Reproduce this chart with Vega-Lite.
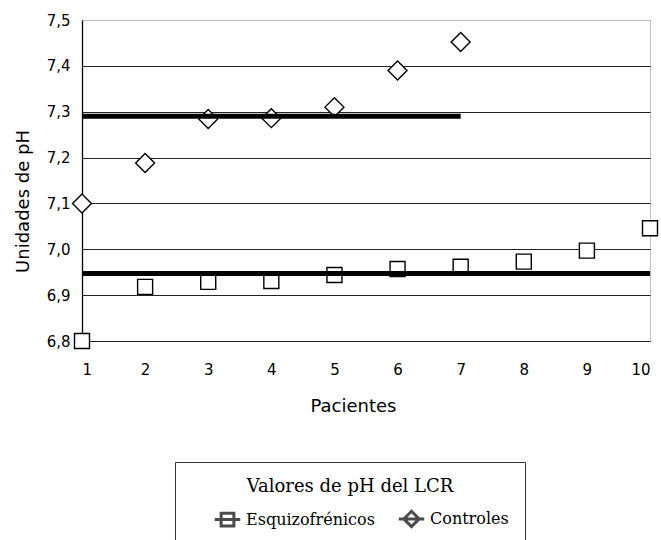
{
  "$schema": "https://vega.github.io/schema/vega-lite/v6.json",
  "autosize": "none",
  "width": 568,
  "height": 321,
  "padding": {"left": 82, "top": 20, "right": 11, "bottom": 199},
  "background": "white",
  "config": {
    "view": {"stroke": "#bbbbbb", "strokeWidth": 1},
    "font": "DejaVu Sans"
  },
  "datasets": {
    "puntos": [
      {"grupo": "Esquizofrénicos", "paciente": 1, "ph": 6.800},
      {"grupo": "Esquizofrénicos", "paciente": 2, "ph": 6.918},
      {"grupo": "Esquizofrénicos", "paciente": 3, "ph": 6.929},
      {"grupo": "Esquizofrénicos", "paciente": 4, "ph": 6.931},
      {"grupo": "Esquizofrénicos", "paciente": 5, "ph": 6.944},
      {"grupo": "Esquizofrénicos", "paciente": 6, "ph": 6.957},
      {"grupo": "Esquizofrénicos", "paciente": 7, "ph": 6.962},
      {"grupo": "Esquizofrénicos", "paciente": 8, "ph": 6.973},
      {"grupo": "Esquizofrénicos", "paciente": 9, "ph": 6.997},
      {"grupo": "Esquizofrénicos", "paciente": 10, "ph": 7.046},
      {"grupo": "Controles", "paciente": 1, "ph": 7.100},
      {"grupo": "Controles", "paciente": 2, "ph": 7.188},
      {"grupo": "Controles", "paciente": 3, "ph": 7.284},
      {"grupo": "Controles", "paciente": 4, "ph": 7.286},
      {"grupo": "Controles", "paciente": 5, "ph": 7.310},
      {"grupo": "Controles", "paciente": 6, "ph": 7.390},
      {"grupo": "Controles", "paciente": 7, "ph": 7.452}
    ],
    "medias": [
      {"grupo": "Esquizofrénicos", "desde": 1, "hasta": 10, "media": 6.947},
      {"grupo": "Controles", "desde": 1, "hasta": 7, "media": 7.290}
    ]
  },
  "layer": [
    {
      "data": {"name": "puntos"},
      "mark": {"type": "point", "filled": false, "fill": "white", "fillOpacity": 1, "stroke": "black", "strokeWidth": 1.4, "opacity": 1},
      "encoding": {
        "x": {
          "field": "paciente", "type": "quantitative",
          "scale": {"domain": [1, 10], "nice": false, "zero": false},
          "axis": {
            "title": "Pacientes", "values": [1,2,3,4,5,6,7,8,9,10], "format": "d",
            "domain": false, "ticks": false, "grid": false,
            "labelFont": "DejaVu Sans", "labelFontSize": 15, "labelColor": "black", "labelPadding": 21,
            "titleFont": "DejaVu Sans", "titleFontSize": 18, "titleFontWeight": "normal", "titleColor": "black", "titlePadding": 20,
            "titleX": 271
          }
        },
        "y": {
          "field": "ph", "type": "quantitative",
          "scale": {"domain": [6.8, 7.5], "nice": false, "zero": false},
          "axis": {
            "title": "Unidades de pH", "values": [6.8, 6.9, 7.0, 7.1, 7.2, 7.3, 7.4, 7.5],
            "labelExpr": "replace(format(datum.value, '.1f'), '.', ',')",
            "domain": true, "domainColor": "black", "domainWidth": 1.3,
            "ticks": false, "grid": true,
            "gridColor": {"condition": {"test": "datum.value > 7.45", "value": "#bbbbbb"}, "value": "#222222"},
            "gridWidth": 1.1,
            "labelFont": "DejaVu Sans", "labelFontSize": 15, "labelColor": "black", "labelPadding": 12,
            "titleFont": "DejaVu Sans", "titleFontSize": 18, "titleFontWeight": "normal", "titleColor": "black", "titlePadding": 14,
            "titleY": 181
          }
        },
        "shape": {
          "condition": {"test": "datum.grupo === 'Controles'", "value": "diamond"},
          "value": "square"
        },
        "size": {
          "condition": {"test": "datum.grupo === 'Controles'", "value": 360},
          "value": 225
        }
      }
    },
    {
      "data": {"name": "medias"},
      "transform": [{"filter": "datum.desde > 100"}],
      "mark": {"type": "point", "filled": false, "color": "black", "strokeWidth": 3},
      "encoding": {
        "shape": {
          "field": "grupo", "type": "nominal",
          "scale": {"domain": ["Esquizofrénicos", "Controles"], "range": ["M-1,0L1,0M-0.5,-0.5L0.5,-0.5L0.5,0.5L-0.5,0.5Z", "M-1,0L1,0M0,-0.6L0.6,0L0,0.6L-0.6,0Z"]},
          "legend": {
            "title": "Valores de pH del LCR",
            "orient": "none", "legendX": 93, "legendY": 442,
            "direction": "horizontal",
            "titleAnchor": "middle", "titleAlign": "center", "titleLimit": 500,
            "titleFont": "DejaVu Serif", "titleFontSize": 18, "titleFontWeight": "normal", "titleColor": "black", "titlePadding": 8,
            "labelFont": "DejaVu Serif", "labelFontSize": 16, "labelColor": "black", "labelLimit": 300,
            "labelExpr": "datum.value === 'Controles' ? datum.label + '\u00a0\u00a0\u00a0\u00a0\u00a0' : datum.label",
            "strokeColor": "#333333", "padding": 16, "symbolOffset": 22,
            "columnPadding": 0,
            "symbolSize": 650, "symbolStrokeWidth": 3
          }
        }
      }
    },
    {
      "data": {"name": "medias"},
      "mark": {"type": "rule", "color": "black", "strokeWidth": 5},
      "encoding": {
        "x": {"field": "desde", "type": "quantitative"},
        "x2": {"field": "hasta"},
        "y": {"field": "media", "type": "quantitative"}
      }
    }
  ]
}
